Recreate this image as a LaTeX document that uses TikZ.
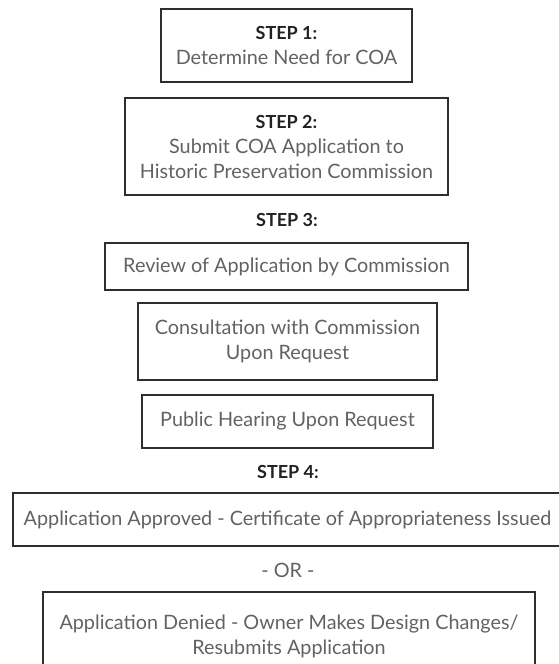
\documentclass[tikz,border=0pt]{standalone}
\usepackage{fontspec}
\setmainfont{Lato}
\definecolor{boxline}{HTML}{2E2E2E}
\definecolor{txt}{HTML}{626262}
\definecolor{steptxt}{HTML}{222222}
\begin{document}
\begin{tikzpicture}[x=1pt,y=-1pt,
  stepbox/.style={draw=boxline,line width=2.8pt,inner sep=0pt,align=center,
    text=txt,font=\fontsize{19.8}{25}\selectfont},
  bstep/.style={text=steptxt,font=\bfseries\fontsize{18}{25}\selectfont},
  steplabel/.style={inner sep=0pt,bstep}]
\useasboundingbox (0,0) rectangle (559,664);
\clip (0,0) rectangle (559,664);
\node[stepbox,minimum width=251pt,minimum height=73pt] (s1) at (286.5,45.5)
  {{\color{steptxt}\bfseries\fontsize{18}{25}\selectfont STEP 1:}\\Determine Need for COA};
\node[stepbox,minimum width=323pt,minimum height=97pt] (s2) at (286.5,146.5)
  {{\color{steptxt}\bfseries\fontsize{18}{25}\selectfont STEP 2:}\\Submit COA Application to\\Historic Preservation Commission};
\node[steplabel] (l3) at (287,220) {STEP 3:};
\node[stepbox,minimum width=363pt,minimum height=47pt] (rev) at (286.5,266.5)
  {Review of Application by Commission};
\node[stepbox,minimum width=299pt,minimum height=77pt] (con) at (287.5,341.5)
  {Consultation with Commission\\Upon Request};
\node[stepbox,minimum width=291pt,minimum height=53pt] (pub) at (287.5,421.5)
  {Public Hearing Upon Request};
\node[steplabel] (l4) at (288,472) {STEP 4:};
\node[stepbox,minimum width=549pt,minimum height=53pt] (app) at (287.5,519.5)
  {Application Approved - Certificate of Appropriateness Issued};
\node[inner sep=0pt,text=txt,font=\fontsize{19.8}{25}\selectfont] (or) at (288,570) {- OR -};
\node[stepbox,minimum width=492pt,minimum height=88pt] (den) at (289,636)
  {Application Denied - Owner Makes Design Changes/\\Resubmits Application};
\end{tikzpicture}
\end{document}
